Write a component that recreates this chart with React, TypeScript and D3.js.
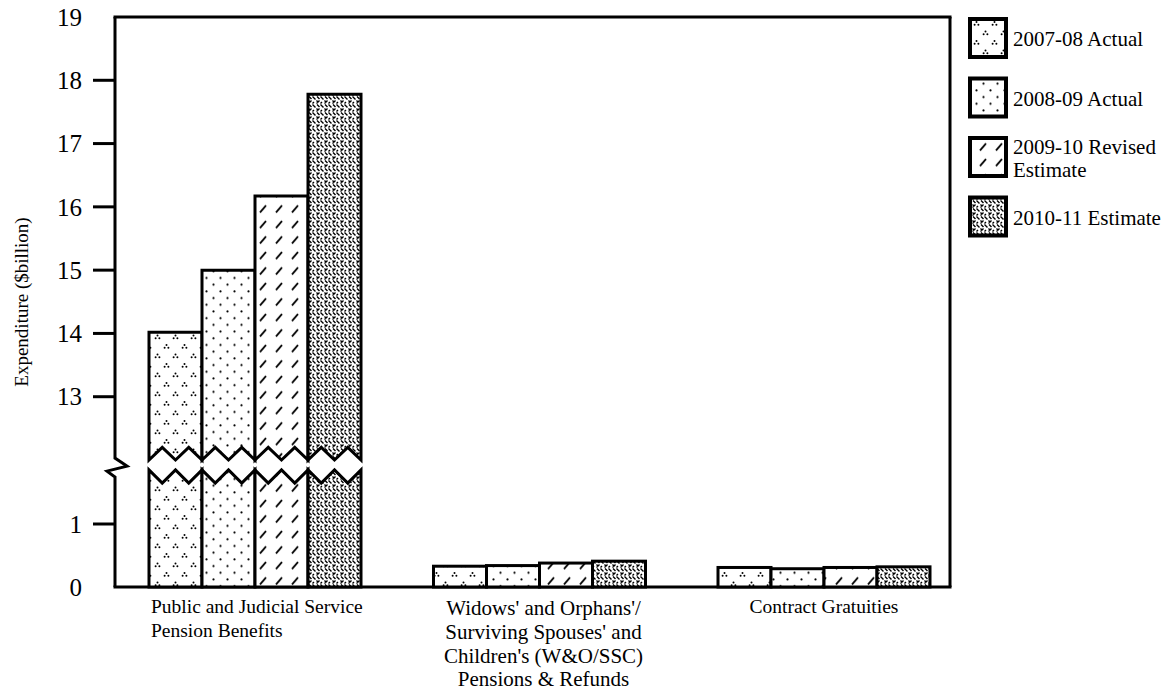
import * as d3 from "d3";

// categories and values
const categoryLines = [
  ["Public and Judicial Service", "Pension Benefits"],
  ["Widows' and Orphans'/", "Surviving Spouses' and", "Children's (W&O/SSC)", "Pensions & Refunds"],
  ["Contract Gratuities"],
];
const categories = ["PJS", "WOSSC", "CG"];
const seriesNames = ["2007-08 Actual", "2008-09 Actual", "2009-10 Revised Estimate", "2010-11 Estimate"];
const legendLines = [["2007-08 Actual"], ["2008-09 Actual"], ["2009-10 Revised", "Estimate"], ["2010-11 Estimate"]];
const values2007 = [14.02, 0.33, 0.31];
const values2008 = [15.0, 0.34, 0.29];
const values2009 = [16.17, 0.38, 0.31];
const values2010 = [17.78, 0.41, 0.32];
const upperTicks = [13, 14, 15, 16, 17, 18];
const lowerTicks = [1];

const series = [values2007, values2008, values2009, values2010];
const patternIds = ["p-triad", "p-dots", "p-slash", "p-weave"];

const W = 1169;
const H = 700;
const left = 115;
const right = 950;
const top = 17;
const bottom = 587;

// broken axis: two linear pieces
const yHigh = d3.scaleLinear().domain([12, 19]).range([460, top]);
const yLow = d3.scaleLinear().domain([0, 1.9]).range([bottom, bottom - 1.9 * 63]);
const breakHigh = [12, 12.2]; // edge, quarter of upper piece bottom
const breakLow = [1.65, 1.86]; // quarter, edge of lower piece top

const xGroup = d3.scalePoint<string>().domain(categories).range([255, 824]);
const groupW = 212;

function zig(x0: number, w: number, yEdge: number, yQuarter: number, reverse: boolean) {
  const pts: [number, number][] = [
    [x0, yEdge],
    [x0 + w / 4, yQuarter],
    [x0 + w / 2, yEdge],
    [x0 + (3 * w) / 4, yQuarter],
    [x0 + w, yEdge],
  ];
  return reverse ? pts.reverse() : pts;
}

export default function App() {
  const line = d3.line();
  const font = "'Liberation Serif', 'Times New Roman', serif";

  const bars: JSX.Element[] = [];
  categories.forEach((c, ci) => {
    const cx = xGroup(c)!;
    const xBar = d3
      .scaleBand<number>()
      .domain(d3.range(series.length))
      .range([cx - groupW / 2, cx + groupW / 2])
      .padding(0);
    series.forEach((vals, si) => {
      const v = vals[ci];
      const x0 = xBar(si)!;
      const w = xBar.bandwidth();
      const fill = `url(#${patternIds[si]})`;
      if (v > breakLow[1]) {
        // upper piece, its bottom edge zigzags
        const upPts: [number, number][] = [
          [x0, yHigh(v)],
          [x0 + w, yHigh(v)],
          ...zig(x0, w, yHigh(breakHigh[0]), yHigh(breakHigh[1]), true),
        ];
        bars.push(
          <path key={`u${ci}${si}`} d={line(upPts)! + "Z"} fill={fill} stroke="#000" strokeWidth={3} />
        );
        // lower piece, its top edge zigzags the other way
        const lowPts: [number, number][] = [
          [x0, yLow(0)],
          ...zig(x0, w, yLow(breakLow[1]), yLow(breakLow[0]), false),
          [x0 + w, yLow(0)],
        ];
        bars.push(
          <path key={`l${ci}${si}`} d={line(lowPts)! + "Z"} fill={fill} stroke="#000" strokeWidth={3} />
        );
      } else {
        bars.push(
          <rect key={`b${ci}${si}`} x={x0} y={yLow(v)} width={w} height={yLow(0) - yLow(v)} fill={fill} stroke="#000" strokeWidth={3} />
        );
      }
    });
  });

  const yBrk = yHigh(12.03);
  const axisPts: [number, number][] = [
    [left, top],
    [left, yBrk],
    [left + 12, yBrk + 8],
    [left - 8, yBrk + 13],
    [left, yBrk + 19],
    [left, bottom],
  ];

  return (
    <svg width={W} height={H} style={{ position: "absolute", left: 0, top: 0, background: "#fff" }}>
      <defs>
        <pattern id="p-triad" patternUnits="userSpaceOnUse" width={18} height={19}>
          <rect width={18} height={19} fill="#fff" />
          {[
            [4.5, 4.5],
            [13.5, 14],
          ].map(([px, py], i) => (
            <g key={i} fill="#000">
              <circle cx={px} cy={py - 1.5} r={1} />
              <circle cx={px - 1.9} cy={py + 1.3} r={1} />
              <circle cx={px + 1.9} cy={py + 1.3} r={1} />
            </g>
          ))}
        </pattern>
        <pattern id="p-dots" patternUnits="userSpaceOnUse" width={14} height={13.4}>
          <rect width={14} height={13.4} fill="#fff" />
          <circle cx={3.5} cy={3.3} r={1.1} fill="#000" />
          <circle cx={10.5} cy={10} r={1.1} fill="#000" />
        </pattern>
        <pattern id="p-slash" patternUnits="userSpaceOnUse" width={16} height={15.5}>
          <rect width={16} height={15.5} fill="#fff" />
          <line x1={4} y1={11} x2={10} y2={4} stroke="#000" strokeWidth={1.8} />
        </pattern>
        <pattern id="p-weave" patternUnits="userSpaceOnUse" width={8} height={8}>
          <rect width={8} height={8} fill="#fff" />
          <path d="M0.5,0.5 L3.5,3.5 M4.5,7.5 L7.5,4.5 M4.5,4.5 L6,6 M2,6 L0.5,7.5 M5,0.5 L7.5,3" stroke="#000" strokeWidth={1.4} fill="none" />
        </pattern>
      </defs>

      {/* frame */}
      <path d={line(axisPts)!} fill="none" stroke="#000" strokeWidth={3} />
      <line x1={left - 1.5} y1={top} x2={right + 1.5} y2={top} stroke="#000" strokeWidth={3} />
      <line x1={right} y1={top} x2={right} y2={bottom} stroke="#000" strokeWidth={3} />
      <line x1={left - 1.5} y1={bottom} x2={right + 1.5} y2={bottom} stroke="#000" strokeWidth={3} />

      {/* ticks */}
      {upperTicks.map((t) => (
        <line key={`ut${t}`} x1={left - 22} x2={left} y1={yHigh(t)} y2={yHigh(t)} stroke="#000" strokeWidth={3} />
      ))}
      {lowerTicks.map((t) => (
        <line key={`lt${t}`} x1={left - 22} x2={left} y1={yLow(t)} y2={yLow(t)} stroke="#000" strokeWidth={3} />
      ))}
      <g fontFamily={font} fontSize={25} textAnchor="end">
        {[...upperTicks, 19].map((t) => (
          <text key={`ul${t}`} x={82} y={yHigh(t)} dy="0.35em">
            {t}
          </text>
        ))}
        {[0, ...lowerTicks].map((t) => (
          <text key={`ll${t}`} x={82} y={yLow(t)} dy="0.35em">
            {t}
          </text>
        ))}
      </g>

      <text
        transform={`translate(21,${(top + bottom) / 2}) rotate(-90)`}
        textAnchor="middle"
        dy="0.35em"
        fontFamily={font}
        fontSize={19}
      >
        Expenditure ($billion)
      </text>

      {bars}

      {/* category labels */}
      <g fontFamily={font}>
        {categories.map((c, ci) => {
          const cx = xGroup(c)!;
          const lines = categoryLines[ci];
          return lines.map((l, li) => (
            <text
              key={`${c}${li}`}
              x={ci === 0 ? cx - groupW / 2 + 2 : cx + (ci === 1 ? 4 : 0)}
              y={(ci === 1 ? 615 : 613) + li * 23.8}
              fontSize={ci === 1 ? 21 : 19.5}
              textAnchor={ci === 0 ? "start" : "middle"}
            >
              {l}
            </text>
          ));
        })}
      </g>

      {/* legend */}
      <g fontFamily={font} fontSize={21}>
        {seriesNames.map((s, si) => {
          const y0 = 17 + si * 59.5;
          const lines = legendLines[si];
          return (
            <g key={s}>
              <rect x={970} y={y0 + 2} width={36} height={38} fill={`url(#${patternIds[si]})`} stroke="#000" strokeWidth={4} />
              {lines.map((l, li) => (
                <text key={li} x={1013} y={y0 + 22 + (li - (lines.length - 1) / 2) * 23} dy="0.35em">
                  {l}
                </text>
              ))}
            </g>
          );
        })}
      </g>
    </svg>
  );
}
